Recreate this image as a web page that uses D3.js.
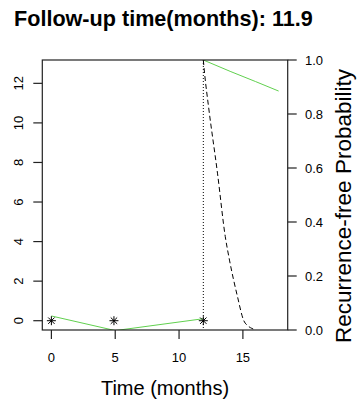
<!DOCTYPE html>
<html lang="en">
<head>
<meta charset="UTF-8">
<title>Follow-up time</title>
<style>
  body { margin: 0; background: #fff; }
  svg { display: block; font-family: 'Liberation Sans', Arial, sans-serif; }
</style>
</head>
<body>
<svg width="359" height="405"></svg>
<script src="https://d3js.org/d3.v7.min.js"></script>
<script>
// chart values
const followUp = 11.9;
const xTicks = [0, 5, 10, 15];
const leftTicks = [0, 2, 4, 6, 8, 10, 12];
const rightTicks = [0, 0.2, 0.4, 0.6, 0.8, 1.0];

// green marker trace (left axis)
const markerTimes = [0, 5, 11.9];
const markerValues = [0.24, -0.5, 0.1];
// observed visits (asterisks)
const visitTimes = [0, 4.9, 11.9];
const visitValues = [0, 0, 0];
// predicted recurrence-free probability after follow-up (right axis)
const predTimes = [11.9, 14.0, 16.0, 17.8];
const predProb = [1.0, 0.958, 0.92, 0.885];
// dashed survival curve (right axis)
const survTimes = [11.9, 12.0, 12.31, 13.01, 13.62, 13.95, 14.58, 15.05, 15.4, 15.7, 16.0];
const survProb = [1.0, 0.95, 0.827, 0.581, 0.346, 0.259, 0.123, 0.037, 0.015, 0.006, 0.0];

const svg = d3.select('svg');
const mLeft = 42.3, mRight = 287.7, mTop = 60, mBottom = 330;

const x = d3.scaleLinear().domain([-0.712, 18.51]).range([mLeft, mRight]);
const yL = d3.scaleLinear().domain([-0.47, 13.18]).range([mBottom, mTop]);
const yR = d3.scaleLinear().domain([0, 1]).range([mBottom, mTop]);

svg.append('rect').attr('width', 359).attr('height', 405).attr('fill', '#fff');

svg.append('clipPath').attr('id', 'plotclip')
  .append('rect').attr('x', mLeft).attr('y', mTop).attr('width', mRight - mLeft).attr('height', mBottom - mTop);

const plot = svg.append('g').attr('clip-path', 'url(#plotclip)');

// title
svg.append('text')
  .attr('x', 14).attr('y', 26)
  .attr('font-size', 21.6).attr('font-weight', 'bold')
  .text('Follow-up time(months): ' + followUp);

// green marker line on left scale
plot.append('path')
  .datum(markerTimes.map((t, i) => [t, markerValues[i]]))
  .attr('fill', 'none').attr('stroke', '#61D04F').attr('stroke-width', 1)
  .attr('d', d3.line().x(d => x(d[0])).y(d => yL(d[1])));

// predicted probability
plot.append('path')
  .datum(predTimes.map((t, i) => [t, predProb[i]]))
  .attr('fill', 'none').attr('stroke', '#61D04F').attr('stroke-width', 1)
  .attr('d', d3.line().x(d => x(d[0])).y(d => yR(d[1])));

// dashed curve
plot.append('path')
  .datum(survTimes.map((t, i) => [t, survProb[i]]))
  .attr('fill', 'none').attr('stroke', '#000').attr('stroke-width', 1)
  .attr('stroke-dasharray', '5,3')
  .attr('d', d3.line().curve(d3.curveMonotoneX).x(d => x(d[0])).y(d => yR(d[1])));

// dotted vertical at follow-up time
svg.append('line')
  .attr('x1', x(followUp)).attr('x2', x(followUp))
  .attr('y1', mTop).attr('y2', mBottom)
  .attr('stroke', '#000').attr('stroke-dasharray', '1,2');

// asterisks
const star = svg.append('g');
visitTimes.forEach((t, i) => {
  const cx = x(t), cy = yL(visitValues[i]);
  const a = 4.5, b = 3.2;
  star.append('path')
    .attr('d', `M${cx - a},${cy}H${cx + a}M${cx},${cy - a}V${cy + a}` +
               `M${cx - b},${cy - b}L${cx + b},${cy + b}M${cx - b},${cy + b}L${cx + b},${cy - b}`)
    .attr('stroke', '#000').attr('stroke-width', 1).attr('fill', 'none');
});

// box
svg.append('rect')
  .attr('x', mLeft).attr('y', mTop).attr('width', mRight - mLeft).attr('height', mBottom - mTop)
  .attr('fill', 'none').attr('stroke', '#222').attr('stroke-width', 1.2);

// bottom axis
const xAx = svg.append('g');
xTicks.forEach(t => {
  xAx.append('line').attr('x1', x(t)).attr('x2', x(t)).attr('y1', mBottom).attr('y2', mBottom + 9)
    .attr('stroke', '#222').attr('stroke-width', 1.2);
  xAx.append('text').attr('x', x(t)).attr('y', 362).attr('text-anchor', 'middle')
    .attr('font-size', 13).text(t);
});

// left axis, labels parallel to axis
const lAx = svg.append('g');
leftTicks.forEach(t => {
  lAx.append('line').attr('x1', mLeft - 9).attr('x2', mLeft).attr('y1', yL(t)).attr('y2', yL(t))
    .attr('stroke', '#222').attr('stroke-width', 1.2);
  lAx.append('text').attr('transform', `translate(23,${yL(t)}) rotate(-90)`)
    .attr('text-anchor', 'middle').attr('font-size', 13).text(t);
});

// right axis
const rAx = svg.append('g');
rightTicks.forEach(t => {
  rAx.append('line').attr('x1', mRight).attr('x2', mRight + 9).attr('y1', yR(t)).attr('y2', yR(t))
    .attr('stroke', '#222').attr('stroke-width', 1.2);
  rAx.append('text').attr('x', 305).attr('y', yR(t)).attr('dy', '0.35em')
    .attr('font-size', 13).text(d3.format('.1f')(t));
});

// axis titles
svg.append('text')
  .attr('x', (mLeft + mRight) / 2).attr('y', 395).attr('text-anchor', 'middle')
  .attr('font-size', 20).text('Time (months)');

svg.append('text')
  .attr('transform', `translate(351,206) rotate(-90)`)
  .attr('text-anchor', 'middle').attr('font-size', 22.5).text('Recurrence-free Probability');
</script>
</body>
</html>
